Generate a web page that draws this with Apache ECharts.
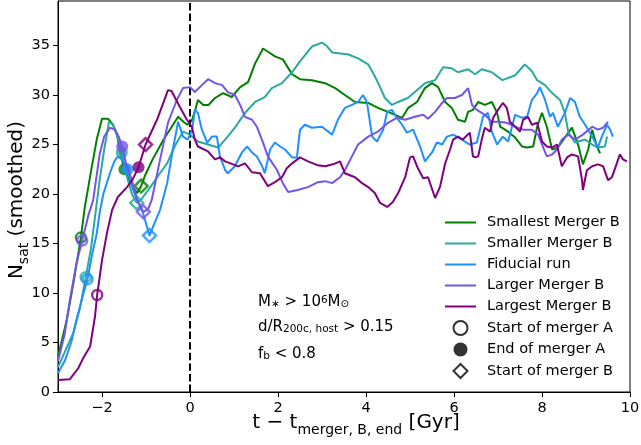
<!DOCTYPE html>
<html>
<head>
<meta charset="utf-8">
<script src="https://cdn.jsdelivr.net/npm/echarts@6/dist/echarts.min.js"></script>
<style>
html,body{margin:0;padding:0;background:#fff;}
#chart{width:641px;height:445px;}
</style>
</head>
<body>
<div id="chart"></div>
<script>
// ---- data (t - t_merger,B,end [Gyr], N_sat smoothed) ----
const seriesNames = ['Smallest Merger B','Smaller Merger B','Fiducial run','Larger Merger B','Largest Merger B'];
const seriesColors = ['#008000','#2AA99F','#1E90FF','#7355EA','#800080'];

const smallest = [[-3,3.6],[-2.8,7.3],[-2.65,11],[-2.48,15.6],[-2.39,18.7],[-2.23,22.8],[-2.12,25.5],[-2.0,27.6],[-1.86,27.6],[-1.75,27],[-1.66,26],[-1.58,24],[-1.49,22.5],[-1.4,21.6],[-1.3,20.7],[-1.2,20.1],[-1.11,20.8],[-1.02,21.9],[-0.85,23.5],[-0.6,25.5],[-0.4,26.9],[-0.27,27.8],[-0.15,27.3],[-0.06,27],[0.04,27.4],[0.12,28.5],[0.18,29.5],[0.3,29],[0.42,29],[0.57,29.7],[0.75,30.2],[0.95,29.8],[1.14,30.8],[1.32,31.3],[1.48,33.2],[1.66,34.7],[1.8,34.3],[1.93,33.9],[2.11,33.6],[2.32,32.1],[2.5,31.6],[2.77,31.5],[3.07,31.2],[3.3,30.7],[3.52,30],[3.75,29.3],[4.05,29.2],[4.27,28.7],[4.5,28.3],[4.66,28],[4.82,27.7],[4.96,28.7],[5.16,29.3],[5.34,30.7],[5.5,31.2],[5.64,30.8],[5.8,29.3],[5.95,28.7],[6.09,27.5],[6.25,27.3],[6.32,28.3],[6.43,28.5],[6.55,29.3],[6.7,29],[6.86,29.3],[6.98,28.2],[7.05,26.8],[7.23,26.3],[7.39,25.7],[7.55,24.8],[7.66,24.7],[7.8,24.8],[7.89,26.8],[8.0,28.2],[8.11,26.8],[8.23,24.5],[8.36,24.7],[8.52,25.7],[8.68,26.7],[8.82,25],[8.93,23],[9.05,24.5],[9.14,26.5],[9.25,24.8],[9.32,24.1]];

const smaller = [[-3,2.5],[-2.85,4],[-2.65,6],[-2.5,8.5],[-2.37,11.6],[-2.25,14.5],[-2.15,18],[-2.05,21.5],[-1.95,24.5],[-1.84,27.3],[-1.75,27],[-1.65,25.8],[-1.55,24.2],[-1.45,22],[-1.32,20],[-1.21,19.1],[-1.1,19.5],[-0.9,20.7],[-0.7,22],[-0.52,23.1],[-0.35,24.8],[-0.16,26.3],[0,26],[0.18,25.3],[0.41,25],[0.64,24.7],[0.8,25.5],[1.02,26.7],[1.25,28.2],[1.48,29.3],[1.7,29.8],[1.86,30.7],[2.09,31.2],[2.32,32.3],[2.5,33.4],[2.77,34.9],[3.0,35.3],[3.1,35],[3.23,34.3],[3.6,34.1],[3.82,33.7],[4.05,33.1],[4.2,31.9],[4.32,30.8],[4.43,29.7],[4.59,29],[4.73,29.3],[4.95,29.7],[5.11,30.3],[5.34,31.2],[5.57,31.5],[5.75,32.8],[5.95,32.7],[6.09,32.3],[6.32,32.6],[6.48,32.1],[6.63,32.6],[6.86,32.3],[7.1,31.5],[7.39,32],[7.61,33.1],[7.77,32.4],[7.89,31.5],[8.07,31],[8.23,30.2],[8.41,29.5],[8.52,28.2],[8.6,26.2],[8.75,25.2],[8.98,25.5],[9.14,25],[9.27,24.7],[9.43,24.8],[9.48,25.8]];

const fiducial = [[-3,1.9],[-2.84,3.2],[-2.7,5],[-2.58,7.3],[-2.45,9.5],[-2.33,11.4],[-2.22,14],[-2.12,16],[-2.05,18.2],[-1.97,20],[-1.82,22.1],[-1.72,23.3],[-1.64,23.8],[-1.55,23.5],[-1.42,22.5],[-1.3,20.5],[-1.2,19.4],[-1.07,18.1],[-0.92,15.8],[-0.84,16.7],[-0.68,18.4],[-0.52,21.1],[-0.39,24.5],[-0.27,27.3],[-0.16,25.8],[-0.05,25.5],[0.05,26.5],[0.11,28.5],[0.18,28.2],[0.27,26.5],[0.39,25.2],[0.5,25.8],[0.61,25.8],[0.68,23.8],[0.8,22.4],[0.86,22.1],[1.02,22.8],[1.18,24.2],[1.3,24.8],[1.41,24.2],[1.52,23.8],[1.64,22.8],[1.7,22.1],[1.82,24.5],[1.93,25.2],[2.05,24.8],[2.16,24.5],[2.32,23.7],[2.43,23.7],[2.5,26.5],[2.61,27],[2.77,26.7],[3.0,26.8],[3.23,26],[3.36,27.5],[3.52,28.7],[3.68,29],[3.82,29.3],[3.93,30],[4.02,29.3],[4.14,25.8],[4.25,25.3],[4.39,26.5],[4.48,28.3],[4.59,28.5],[4.7,27.7],[4.82,27],[4.93,26.2],[5.07,26.5],[5.23,24.8],[5.34,23.3],[5.5,24.2],[5.61,25.2],[5.73,25],[5.84,25.8],[5.98,26],[6.18,25.5],[6.36,25],[6.52,25.2],[6.66,27.8],[6.77,28.2],[6.86,26.3],[6.98,25],[7.11,25.8],[7.23,25.3],[7.39,28],[7.55,27.7],[7.66,27.8],[7.77,29.5],[7.89,30.2],[7.95,30.8],[8.07,29.5],[8.18,27.8],[8.25,28.2],[8.36,26.8],[8.52,28.2],[8.64,29.7],[8.75,29.3],[8.86,27.8],[8.98,27],[9.14,25.8],[9.27,24.7],[9.36,25.8],[9.48,27],[9.55,26.5],[9.61,25.8]];

const larger = [[-3,3.1],[-2.85,5.8],[-2.73,9.3],[-2.58,13],[-2.45,15.3],[-2.3,18],[-2.2,19.4],[-2.05,24.1],[-1.95,25.8],[-1.82,26.7],[-1.7,26.5],[-1.62,25.8],[-1.54,24.8],[-1.45,23],[-1.32,21.4],[-1.2,19.4],[-1.06,18.2],[-0.95,18.5],[-0.87,19.4],[-0.68,23.5],[-0.5,27.2],[-0.3,29.5],[-0.16,30.7],[0,30.8],[0.11,30.3],[0.27,31],[0.41,31.6],[0.57,31.2],[0.73,31],[0.86,30.3],[1.02,30],[1.14,29],[1.25,27.8],[1.41,27.5],[1.52,26.8],[1.66,25.2],[1.77,23.8],[1.98,22.4],[2.11,21.1],[2.23,20.2],[2.45,20.4],[2.68,20.7],[2.91,21.2],[3.07,21.3],[3.23,21.1],[3.41,21.7],[3.52,22.4],[3.68,23.8],[3.82,25],[4.05,25.8],[4.27,26.3],[4.5,27.2],[4.7,27.7],[4.89,27.5],[5.11,27.8],[5.3,28],[5.41,27.6],[5.57,28.3],[5.73,29.2],[5.84,29.7],[6.02,29.7],[6.18,30],[6.32,30.7],[6.41,29],[6.52,28.5],[6.7,28],[6.86,27.3],[7.0,27.3],[7.2,27.2],[7.39,26.8],[7.57,26.5],[7.77,26.5],[7.91,26],[8.02,24.8],[8.11,23.8],[8.23,24],[8.34,24.5],[8.45,25.5],[8.6,26],[8.75,25.5],[8.93,26],[9.14,26.8],[9.27,26.5],[9.39,26.7],[9.5,27.3]];

const largest = [[-3,1.2],[-2.73,1.3],[-2.54,2.4],[-2.43,3.4],[-2.27,4.6],[-2.16,7.6],[-2.11,9.8],[-2.0,13.3],[-1.89,16],[-1.77,18.4],[-1.64,19.7],[-1.43,20.7],[-1.3,21.5],[-1.17,22.7],[-1.01,25],[-0.75,27.5],[-0.5,30.5],[-0.42,30.4],[-0.23,28.8],[-0.07,27.5],[0.04,26.8],[0.11,25.5],[0.18,24.8],[0.41,24.3],[0.57,23.5],[0.68,23.7],[0.8,23.3],[0.98,23],[1.09,22.8],[1.25,23.1],[1.41,22.2],[1.59,22.1],[1.77,20.8],[1.93,21.2],[2.09,21.7],[2.2,22.6],[2.32,23.1],[2.5,23.7],[2.68,23.3],[2.91,22.9],[3.07,22.8],[3.25,23],[3.41,23.3],[3.52,22.1],[3.75,21.7],[3.91,21.1],[4.05,20.7],[4.2,20.1],[4.32,19.1],[4.48,18.7],[4.61,19.2],[4.73,20.1],[4.89,21.7],[5.0,23.7],[5.07,23.8],[5.18,22.6],[5.3,21.6],[5.41,21.7],[5.57,19.6],[5.68,20.7],[5.8,23.1],[5.91,24.5],[5.98,25.5],[6.09,25.8],[6.2,25.5],[6.36,26.2],[6.43,23.8],[6.48,23.7],[6.55,23.8],[6.63,25.5],[6.7,26.7],[6.82,26.3],[6.89,27.7],[7.0,28.5],[7.11,29.2],[7.2,28.7],[7.27,27.3],[7.39,26.8],[7.5,26.3],[7.57,27.5],[7.68,27.8],[7.77,27],[7.89,27.2],[8.0,25.3],[8.11,24.8],[8.23,24.7],[8.34,25],[8.45,22.8],[8.57,23.7],[8.68,24],[8.82,23.8],[8.91,21.4],[8.93,20.4],[9.02,22.4],[9.14,22.8],[9.27,23],[9.39,22.8],[9.5,21.4],[9.59,21.7],[9.7,23.1],[9.77,24],[9.84,23.5],[9.93,23.3]];

// markers, one per run in the order of seriesNames
const startA = [[-2.48,15.6],[-2.37,11.6],[-2.33,11.4],[-2.45,15.3],[-2.11,9.8]];
const endA   = [[-1.49,22.5],[-1.55,24.2],[-1.42,22.5],[-1.54,24.8],[-1.17,22.7]];
const startB = [[-1.11,20.8],[-1.21,19.1],[-0.92,15.8],[-1.06,18.2],[-1.01,25.0]];

const xTicks = [-2,0,2,4,6,8,10];
const yTicks = [0,5,10,15,20,25,30,35];
const markerNames = ['Start of merger A','End of merger A','Start of merger B'];

// ---- chart ----
const FONT = 'DejaVu Sans';
const runs = [smallest, smaller, fiducial, larger, largest];
const series = [];
runs.forEach((d, i) => {
  series.push({
    type: 'line', name: seriesNames[i], data: d,
    symbol: 'none', showSymbol: false, smooth: false,
    lineStyle: {color: seriesColors[i], width: 2},
    itemStyle: {color: seriesColors[i]},
    z: 2 + i*2
  });
  series.push({
    type: 'scatter', name: '_mA' + i, data: [startA[i]],
    symbol: 'circle', symbolSize: 10,
    itemStyle: {color: 'rgba(0,0,0,0)', borderColor: seriesColors[i], borderWidth: 2.5},
    z: 3 + i*2
  });
  series.push({
    type: 'scatter', name: '_mE' + i, data: [endA[i]],
    symbol: 'circle', symbolSize: 12,
    itemStyle: {color: seriesColors[i], borderWidth: 0},
    z: 3 + i*2
  });
  series.push({
    type: 'scatter', name: '_mB' + i, data: [startB[i]],
    symbol: 'diamond', symbolSize: 13,
    itemStyle: {color: 'rgba(0,0,0,0)', borderColor: seriesColors[i], borderWidth: 2.5},
    z: 3 + i*2
  });
});
// legend-only marker entries
series.push({type:'scatter', name: markerNames[0], data: [], symbol:'circle',
  itemStyle:{color:'rgba(255,255,255,0)', borderColor:'#000', borderWidth:2.5}});
series.push({type:'scatter', name: markerNames[1], data: [], symbol:'circle',
  itemStyle:{color:'#000', borderWidth:0}});
series.push({type:'scatter', name: markerNames[2], data: [], symbol:'diamond',
  itemStyle:{color:'rgba(255,255,255,0)', borderColor:'#000', borderWidth:2.5}});
// vertical dashed line at t = 0
series.push({
  type: 'line', name: '_zero', data: [], z: 20, silent: true,
  markLine: {
    silent: true, symbol: 'none', animation: false,
    label: {show: false},
    lineStyle: {color: '#000', type: [7.4, 3.2], width: 2},
    data: [{xAxis: 0}]
  }
});

const lineIcon = 'path://M0,0L31,0L31,2L0,2Z';
const legendData = seriesNames.map(n => ({name: n, icon: lineIcon}))
  .concat([
    {name: markerNames[0], icon: 'circle'},
    {name: markerNames[1], icon: 'circle'},
    {name: markerNames[2], icon: 'path://M7,0L14,7L7,14L0,7Z'}
  ]);

const chart = echarts.init(document.getElementById('chart'), null, {renderer: 'canvas'});
chart.setOption({
  animation: false,
  backgroundColor: '#fff',
  textStyle: {fontFamily: FONT},
  grid: {left: 58, right: 11, top: 1, bottom: 53, outerBoundsMode: 'none', containLabel: false,
    show: true, borderColor: '#000', borderWidth: 1, backgroundColor: 'transparent'},
  xAxis: {
    type: 'value', min: -3, max: 10,
    axisLine: {show: true, onZero: false, lineStyle: {color: '#000', width: 1}},
    axisTick: {show: true, length: 5, inside: false, customValues: xTicks, lineStyle: {color: '#000', width: 1}},
    axisLabel: {customValues: xTicks, color: '#000', fontSize: 14.5, fontFamily: FONT, margin: 9,
      formatter: v => (v < 0 ? '\u2212' + Math.abs(v) : String(v))},
    splitLine: {show: false},
    name: 't \u2212 t{s|merger, B, end} [Gyr]',
    nameLocation: 'middle', nameGap: 17, nameMoveOverlap: false,
    nameTextStyle: {color: '#000', fontSize: 20, fontFamily: FONT, lineHeight: 28, padding: [0,0,0,24],
      rich: {s: {fontSize: 14, fontFamily: FONT, color: '#000', lineHeight: 14, verticalAlign: 'bottom'}}}
  },
  yAxis: {
    type: 'value', min: 0, max: 39.5,
    axisLine: {show: true, onZero: false, lineStyle: {color: '#000', width: 1}},
    axisTick: {show: true, length: 5, inside: false, customValues: yTicks, lineStyle: {color: '#000', width: 1}},
    axisLabel: {customValues: yTicks, color: '#000', fontSize: 14.5, fontFamily: FONT, margin: 8},
    splitLine: {show: false},
    name: 'N{s|sat} (smoothed)',
    nameLocation: 'middle', nameGap: 27, nameMoveOverlap: false,
    nameTextStyle: {color: '#000', fontSize: 20, fontFamily: FONT, lineHeight: 28, padding: [0,7,0,0],
      rich: {s: {fontSize: 14, fontFamily: FONT, color: '#000', lineHeight: 14, verticalAlign: 'bottom'}}}
  },
  legend: {
    orient: 'vertical', left: 440, top: 210,
    itemWidth: 31, itemHeight: 14, itemGap: 6,
    data: legendData,
    textStyle: {color: '#000', fontSize: 14.5, fontFamily: FONT, lineHeight: 15, padding: [0,0,0,6]},
    selectedMode: false
  },
  graphic: [
    {type: 'text', left: 258, top: 295, silent: true,
      style: {text: 'M{s|\u2217} > 10{p|6}M{s|\u2299}', fill: '#000', fontSize: 15, fontFamily: FONT,
        rich: {s: {fontSize: 10.5, fontFamily: FONT, fill: '#000', verticalAlign: 'bottom'},
               p: {fontSize: 10.5, fontFamily: FONT, fill: '#000', verticalAlign: 'top'}}}},
    {type: 'text', left: 258, top: 320, silent: true,
      style: {text: 'd/R{s|200c, host} > 0.15', fill: '#000', fontSize: 15, fontFamily: FONT,
        rich: {s: {fontSize: 10.5, fontFamily: FONT, fill: '#000', verticalAlign: 'bottom'}}}},
    {type: 'text', left: 258, top: 347, silent: true,
      style: {text: 'f{s|b} < 0.8', fill: '#000', fontSize: 15, fontFamily: FONT,
        rich: {s: {fontSize: 10.5, fontFamily: FONT, fill: '#000', verticalAlign: 'bottom'}}}}
  ],
  series: series
});
</script>
</body>
</html>
